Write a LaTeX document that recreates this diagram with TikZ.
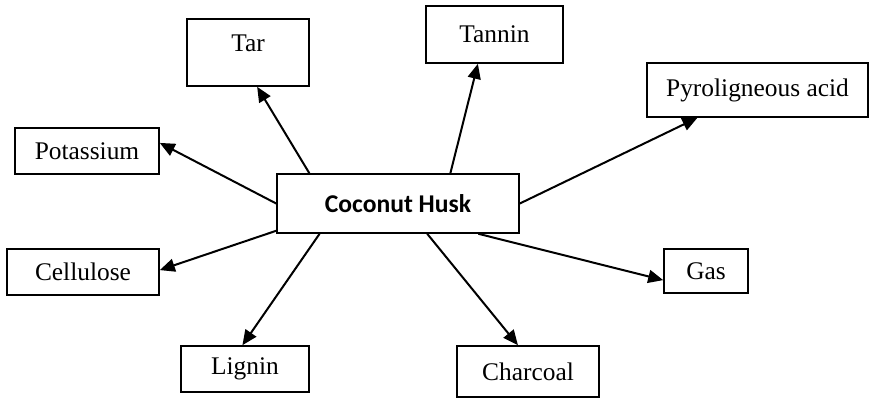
\documentclass[tikz,border=0pt]{standalone}
\usepackage{fontspec}
\setmainfont{Liberation Serif}
\newfontfamily\huskfont{Carlito}
\usepackage{tikz}
\usetikzlibrary{arrows.meta, calc}
\tikzstyle{product} = [rectangle, draw=black, line width=0.8pt, inner sep=0pt, text centered, font=\fontsize{12.7}{15}\selectfont]
\tikzstyle{source} = [product, font=\huskfont\bfseries\fontsize{12.8}{15}\selectfont]
\tikzstyle{arrow} = [line width=1pt, -{Triangle[length=7.5pt, width=6.5pt]}]

\begin{document}
\begin{tikzpicture}[x=0.5pt, y=-0.5pt]
    \useasboundingbox (0,0) rectangle (872,398);
    \node (Husk) [source, minimum width=121pt, minimum height=29.5pt] at (398,203.5) {Coconut Husk};
    \node (Tar) [product, minimum width=61pt, minimum height=33.5pt, text depth=9pt] at (248,52.5) {Tar};
    \node (Tannin) [product, minimum width=68.5pt, minimum height=28.5pt] at (494.5,34.5) {Tannin};
    \node (Pyro) [product, minimum width=110.5pt, minimum height=27pt] at (757.5,90) {Pyroligneous acid};
    \node (Potassium) [product, minimum width=72pt, minimum height=23pt] at (87,151) {Potassium};
    \node (Cellulose) [product, minimum width=76pt, minimum height=23pt] at (83,272) {Cellulose};
    \node (Gas) [product, minimum width=42pt, minimum height=22pt] at (706,271) {Gas};
    \node (Lignin) [product, minimum width=64pt, minimum height=23pt] at (245,369) {Lignin};
    \node (Charcoal) [product, minimum width=71pt, minimum height=25.5pt] at (528,371.5) {Charcoal};
    \draw [arrow] ($(Husk.north west)!0.136!(Husk.north east)$) -- ($(Tar.south west)!0.574!(Tar.south east)$);
    \draw [arrow] ($(Husk.north west)!0.715!(Husk.north east)$) -- ($(Tannin.south west)!0.38!(Tannin.south east)$);
    \draw [arrow] (Husk.east) -- ($(Pyro.south west)!0.23!(Pyro.south east)$);
    \draw [arrow] (Husk.west) -- ($(Potassium.north east)!0.33!(Potassium.south east)$);
    \draw [arrow] ($(Husk.north west)!0.95!(Husk.south west)$) -- ($(Cellulose.north east)!0.46!(Cellulose.south east)$);
    \draw [arrow] ($(Husk.south west)!0.178!(Husk.south east)$) -- ($(Lignin.north west)!0.48!(Lignin.north east)$);
    \draw [arrow] ($(Husk.south west)!0.62!(Husk.south east)$) -- ($(Charcoal.north west)!0.43!(Charcoal.north east)$);
    \draw [arrow] ($(Husk.south west)!0.83!(Husk.south east)$) -- ($(Gas.north west)!0.70!(Gas.south west)$);
\end{tikzpicture}
\end{document}
